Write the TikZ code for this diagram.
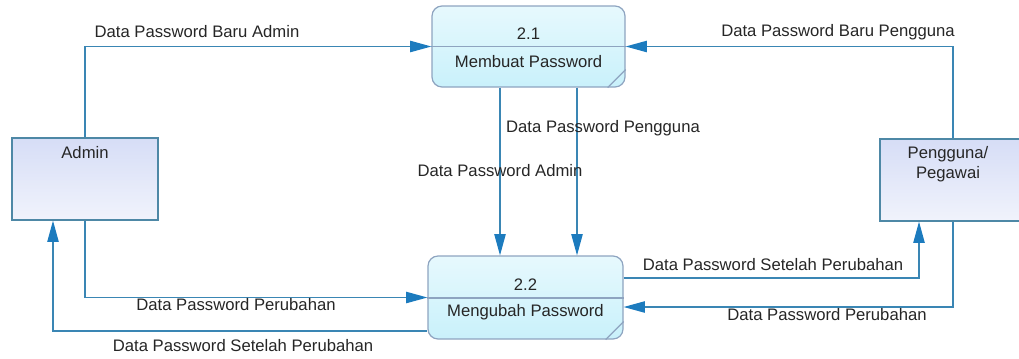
\documentclass[tikz,border=0pt]{standalone}
\usepackage{fontspec}
\setmainfont{Liberation Sans}
\usetikzlibrary{arrows.meta,calc}

\definecolor{flowline}{HTML}{3A86B4}
\definecolor{flowtip}{HTML}{1C7BBE}
\definecolor{procedge}{HTML}{8EA4C0}
\definecolor{procfill}{HTML}{C9F1FB}
\definecolor{entedge}{HTML}{4E88A6}
\definecolor{entfill}{HTML}{D6DDF6}

\tikzset{
  txt/.style={font=\fontsize{12.5}{15}\selectfont, text=black!85, inner sep=0pt},
  procbox/.style={rectangle, rounded corners=7.5pt, draw=procedge, line width=0.9pt,
    top color=procfill!45, bottom color=procfill, inner sep=0pt},
  entbox/.style={rectangle, draw=entedge, line width=0.9pt,
    top color=entfill, bottom color=entfill!35, inner sep=0pt},
  flow/.style={draw=flowline, line width=1pt,
    -{Triangle[length=16pt,width=8.5pt,fill=flowtip,color=flowtip]}},
  divider/.style={draw=procedge, line width=0.9pt},
}

\begin{document}
\begin{tikzpicture}[x=0.75pt,y=-0.75pt]
\useasboundingbox (0,0) rectangle (1019,358);

% processes
\node[procbox, minimum width=144.75pt, minimum height=60.75pt] (p21) at (528.5,46.5) {};
\node[procbox, minimum width=146.25pt, minimum height=62.25pt] (p22) at (525.5,297.5) {};
\draw[divider] (p21.west) -- (p21.east);
\draw[divider] ($(p22.west)+(0,0.5)$) -- ($(p22.east)+(0,0.5)$);
\draw[divider] ($(p21.south east)+(-18,0)$) -- ($(p21.south east)+(0,-18)$);
\draw[divider] ($(p22.south east)+(-18,0)$) -- ($(p22.south east)+(0,-18)$);
\node[txt] at (528.5,34) {2.1};
\node[txt] at (528.5,62) {Membuat Password};
\node[txt] at (525.5,285) {2.2};
\node[txt] at (525.5,312) {Mengubah Password};

% external entities
\node[entbox, minimum width=109.5pt, minimum height=61.5pt] (admin) at (85,179) {};
\node[entbox, minimum width=109.5pt, minimum height=61.5pt] (peng) at (953,180) {};
\node[txt] at (85,153) {Admin};
\node[txt, align=center] at (948,164) {Pengguna/\\Pegawai};

% anchor points along the box edges
\coordinate (d1) at ($(p21.south)+(-28.5,0)$);
\coordinate (d2) at ($(p21.south)+(48.5,0)$);
\coordinate (ain) at ($(admin.south)+(-32,0)$);
\coordinate (pin) at ($(peng.south)+(-34,0)$);
\coordinate (outL) at ($(p22.west)+(0,33.5)$);
\coordinate (outR) at ($(p22.east)+(0,-19.5)$);
\coordinate (inR) at ($(p22.east)+(0,9.5)$);

% data flows
\draw[flow] (admin.north) |- (p21.west);
\draw[flow] (peng.north) |- (p21.east);
\draw[flow] (d1) -- (d1 |- p22.north);
\draw[flow] (d2) -- (d2 |- p22.north);
\draw[flow] (admin.south) |- (p22.west);
\draw[flow] (outL) -| (ain);
\draw[flow] (outR) -| (pin);
\draw[flow] (peng.south) |- (inR);

% flow labels
\node[txt] at (197,32) {Data Password Baru Admin};
\node[txt] at (838,32) {Data Password Baru Pengguna};
\node[txt] at (603,128) {Data Password Pengguna};
\node[txt] at (500,171) {Data Password Admin};
\node[txt] at (236,305) {Data Password Perubahan};
\node[txt] at (243,346) {Data Password Setelah Perubahan};
\node[txt] at (773,265) {Data Password Setelah Perubahan};
\node[txt] at (827,315) {Data Password Perubahan};
\end{tikzpicture}
\end{document}
